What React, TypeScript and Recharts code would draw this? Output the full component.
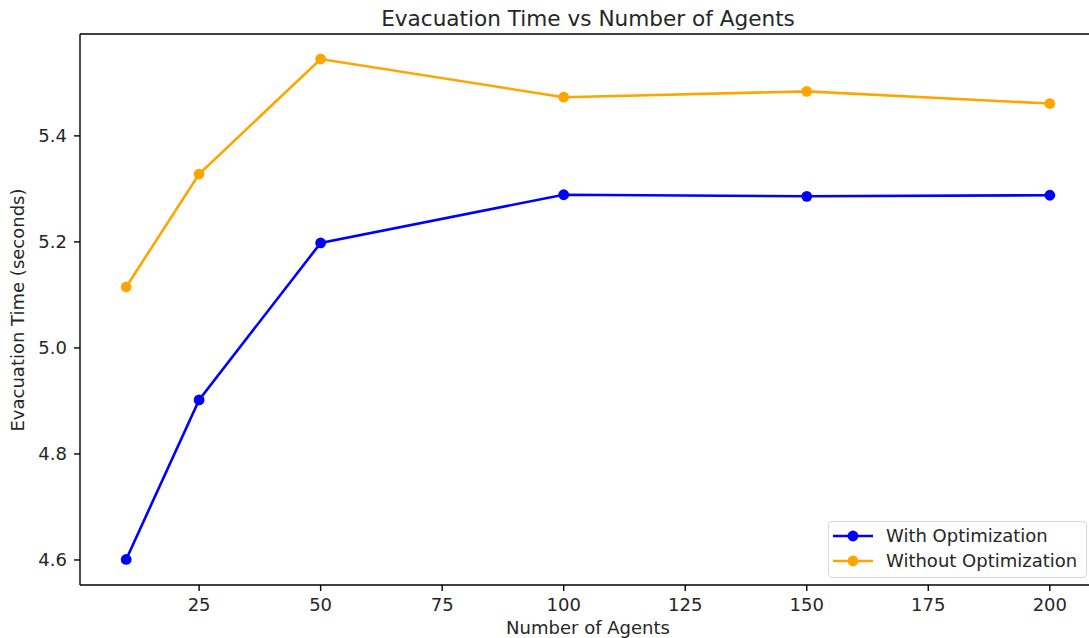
import React from "react";
import { LineChart, Line, XAxis, YAxis, ReferenceLine } from "recharts";

const agents = [10, 25, 50, 100, 150, 200];
const withOpt = [4.601, 4.902, 5.198, 5.289, 5.286, 5.288];
const withoutOpt = [5.115, 5.328, 5.545, 5.473, 5.484, 5.461];
const xTicks = [25, 50, 75, 100, 125, 150, 175, 200];
const yTicks = [4.6, 4.8, 5.0, 5.2, 5.4];
const seriesNames = ["With Optimization", "Without Optimization"];
const seriesColors = ["#0000ff", "#ffa500"];

const data = agents.map((a, i) => ({ agents: a, withOpt: withOpt[i], withoutOpt: withoutOpt[i] }));

const FONT = "'DejaVu Sans', sans-serif";
const TXT = "#262626";
const Y_DOMAIN: [number, number] = [4.5528, 5.5922];

const LegendBox = () => (
  <div
    style={{
      position: "absolute",
      left: 828,
      top: 521,
      width: 259,
      height: 57,
      border: "1px solid #d6d6d6",
      borderRadius: 4,
      background: "rgba(255,255,255,0.8)",
      fontFamily: FONT,
      fontSize: 18,
      color: TXT,
      boxSizing: "border-box",
    }}
  >
    {seriesNames.map((t, i) => (
      <div
        key={t}
        style={{ position: "absolute", left: 0, top: 1 + i * 25, height: 26, display: "flex", alignItems: "center", whiteSpace: "nowrap" }}
      >
        <svg width={40} height={14} style={{ marginLeft: 4, marginRight: 13 }}>
          <line x1={0} y1={7} x2={40} y2={7} stroke={seriesColors[i]} strokeWidth={2.6} />
          <circle cx={20} cy={7} r={5.4} fill={seriesColors[i]} />
        </svg>
        <span style={{ lineHeight: "26px" }}>{t}</span>
      </div>
    ))}
  </div>
);

export default function App() {
  return (
    <div style={{ position: "absolute", left: 0, top: 0, width: 1089, height: 638, overflow: "hidden", background: "#fff" }}>
      <div
        style={{
          position: "absolute",
          left: 0,
          width: 1176,
          top: 8,
          lineHeight: "22px",
          textAlign: "center",
          fontFamily: FONT,
          fontSize: 21.6,
          color: TXT,
          whiteSpace: "nowrap",
        }}
      >
        Evacuation Time vs Number of Agents
      </div>
      <LineChart
        width={1100}
        height={638}
        data={data}
        margin={{ top: 34, right: 4, bottom: 0, left: 0 }}
        style={{ position: "absolute", left: 0, top: 0 }}
      >
        <XAxis
          dataKey="agents"
          type="number"
          domain={[0.5, 209.5]}
          ticks={xTicks}
          allowDataOverflow
          height={53}
          tickSize={6}
          tickLine={{ stroke: "#000", strokeWidth: 1.4 }}
          axisLine={{ stroke: "#000", strokeWidth: 1.4 }}
          tick={{ fill: TXT, fontSize: 18, fontFamily: FONT }}
          tickMargin={7}
        />
        <YAxis
          type="number"
          domain={Y_DOMAIN}
          ticks={yTicks}
          allowDataOverflow
          width={80}
          tickSize={6}
          tickLine={{ stroke: "#000", strokeWidth: 1.4 }}
          axisLine={{ stroke: "#000", strokeWidth: 1.4 }}
          tick={{ fill: TXT, fontSize: 18, fontFamily: FONT }}
          tickMargin={7}
          tickFormatter={(v: number) => v.toFixed(1)}
        />
        <ReferenceLine y={Y_DOMAIN[1]} stroke="#000" strokeWidth={1.4} ifOverflow="visible" />
        <Line
          dataKey="withOpt"
          stroke={seriesColors[0]}
          strokeWidth={2.6}
          dot={{ r: 5.4, fill: seriesColors[0], stroke: seriesColors[0], strokeWidth: 0 }}
          activeDot={false}
          isAnimationActive={false}
        />
        <Line
          dataKey="withoutOpt"
          stroke={seriesColors[1]}
          strokeWidth={2.6}
          dot={{ r: 5.4, fill: seriesColors[1], stroke: seriesColors[1], strokeWidth: 0 }}
          activeDot={false}
          isAnimationActive={false}
        />
      </LineChart>
      <div
        style={{
          position: "absolute",
          left: 0,
          width: 1176,
          top: 619,
          lineHeight: "18px",
          textAlign: "center",
          fontFamily: FONT,
          fontSize: 18,
          color: TXT,
          whiteSpace: "nowrap",
        }}
      >
        Number of Agents
      </div>
      <div
        style={{
          position: "absolute",
          left: 18 - 150,
          top: 310 - 9,
          width: 300,
          height: 18,
          lineHeight: "18px",
          textAlign: "center",
          fontFamily: FONT,
          fontSize: 18,
          color: TXT,
          whiteSpace: "nowrap",
          transform: "rotate(-90deg)",
          transformOrigin: "center center",
        }}
      >
        Evacuation Time (seconds)
      </div>
      <LegendBox />
    </div>
  );
}
